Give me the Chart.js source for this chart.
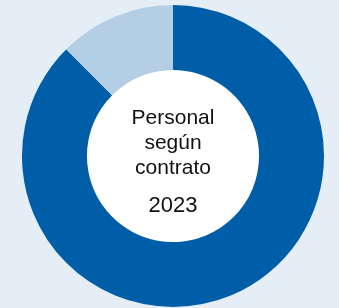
<!DOCTYPE html>
<html>
<head>
<meta charset="utf-8">
<script src="https://cdn.jsdelivr.net/npm/chart.js@4"></script>
<style>
	html, body { margin: 0; padding: 0; background: #e5eef6; }
	#wrap { position: relative; width: 339px; height: 308px; }
	#label {
		position: absolute; left: 88px; width: 170px; top: 104px;
		text-align: center; color: #111;
		font-family: "Liberation Sans", Arial, sans-serif;
	}
	#label .l { font-size: 21px; line-height: 25px; }
	#label .y { font-size: 22px; line-height: 25px; margin-top: 13px; }
</style>
</head>
<body>
<div id="wrap">
	<canvas id="contractChart" width="339" height="308"></canvas>
	<div id="label">
		<div class="l">Personal</div>
		<div class="l">según</div>
		<div class="l">contrato</div>
		<div class="y">2023</div>
	</div>
</div>
<script>
// contract types share (%)
const contractLabels = ["Indefinido", "Temporal"];
const contractValues = [87.5, 12.5];
const contractColors = ["#005ea8", "#b4cee5"];

// white disc inside the hole
const holeFill = {
	id: 'holeFill',
	beforeDatasetsDraw(chart) {
		const arc = chart.getDatasetMeta(0).data[0];
		if(!arc) return;
		const ctx = chart.ctx;
		ctx.save();
		ctx.fillStyle = '#ffffff';
		ctx.beginPath();
		ctx.arc(arc.x, arc.y, arc.innerRadius, 0, Math.PI * 2);
		ctx.fill();
		ctx.restore();
	}
};

const contractChart = document.getElementById('contractChart');
new Chart(contractChart, {
	type: 'doughnut',
	data: {
		labels: contractLabels,
		datasets: [{
			data: contractValues,
			backgroundColor: contractColors,
			borderWidth: 0
		}]
	},
	options: {
		responsive: false,
		animation: false,
		cutout: '57%',
		layout: {
			padding: { top: 5, bottom: 1, left: 7, right: 0 }
		},
		plugins: {
			legend: { display: false },
			tooltip: { enabled: false }
		}
	},
	plugins: [holeFill]
});
</script>
</body>
</html>
